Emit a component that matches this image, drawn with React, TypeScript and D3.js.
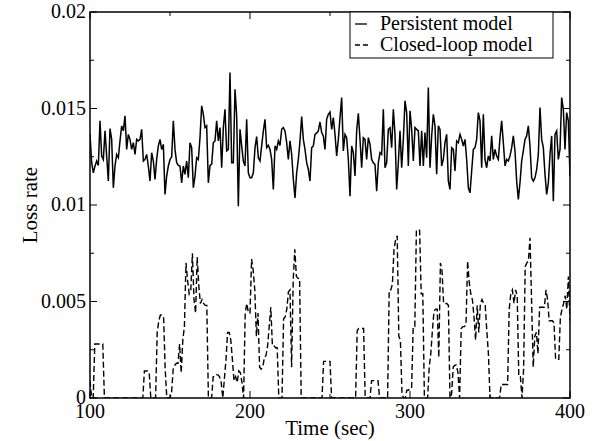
import React from "react";
import * as d3 from "d3";

const xMajorTicks = [100, 200, 300, 400];
const xMinorTicks = [150, 250, 350];
const yMajorTicks = [0, 0.005, 0.01, 0.015, 0.02];
const yMajorLabels = ["0", "0.005", "0.01", "0.015", "0.02"];
const yMinorTicks = [0.0025, 0.0075, 0.0125, 0.0175];
const seriesNames = ["Persistent model", "Closed-loop model"];
const xTitle = "Time (sec)";
const yTitle = "Loss rate";

// Persistent model, t = 100..400 (evenly sampled)
const persistent = [
  0.01366, 0.01219, 0.01167, 0.01202, 0.01228, 0.01205, 0.01436, 0.01254, 0.01236, 0.01384,
  0.01254, 0.01124, 0.01396, 0.0134, 0.01089, 0.01202, 0.01262, 0.01245, 0.01332, 0.0141,
  0.01384, 0.01462, 0.01288, 0.01366, 0.0134, 0.01288, 0.01323, 0.01262, 0.0134, 0.01332,
  0.0134, 0.01392, 0.01228, 0.01236, 0.01262, 0.01202, 0.01124, 0.01271, 0.01228, 0.01133,
  0.01236, 0.01306, 0.0134, 0.01288, 0.01314, 0.01055, 0.0115, 0.01202, 0.01236, 0.0125,
  0.01436, 0.01288, 0.01219, 0.01205, 0.01202, 0.01115, 0.01202, 0.01159, 0.01228, 0.01141,
  0.01323, 0.01297, 0.01089, 0.0115, 0.01245, 0.01236, 0.01349, 0.01514, 0.0147, 0.01401,
  0.0141, 0.01115, 0.01205, 0.01211, 0.01323, 0.01332, 0.01436, 0.01332, 0.01401, 0.01193,
  0.01401, 0.01496, 0.0128, 0.01288, 0.01687, 0.01219, 0.01219, 0.016, 0.01462, 0.00994,
  0.01392, 0.01306, 0.01228, 0.01202, 0.01444, 0.01167,
  0.01141, 0.01141, 0.01167, 0.01297, 0.01354, 0.01245, 0.01228, 0.01306, 0.01384, 0.01444,
  0.01297, 0.01309, 0.01288, 0.01236, 0.01081, 0.01306, 0.01288, 0.01332, 0.01309, 0.01392,
  0.01401, 0.01384, 0.01323, 0.01236, 0.01332, 0.01262, 0.01132, 0.01037, 0.01167, 0.01236,
  0.01332, 0.01458, 0.0134, 0.01288, 0.01219, 0.01184, 0.01124, 0.01297, 0.01306, 0.01366,
  0.01372, 0.01384, 0.0143, 0.01375, 0.01358, 0.01288, 0.01444, 0.0147, 0.01482, 0.01392,
  0.01453, 0.01366, 0.01254, 0.0134, 0.01453, 0.01557, 0.0128, 0.01366, 0.01349, 0.01236,
  0.01046, 0.01306, 0.01271, 0.0115, 0.01384, 0.01475, 0.0134, 0.01193, 0.01349, 0.0134,
  0.01236, 0.01349, 0.01314, 0.01236, 0.01219, 0.0121, 0.01072, 0.01219, 0.01271, 0.01262,
  0.01496, 0.01193, 0.01219, 0.01392, 0.01401, 0.01297, 0.01496, 0.01366, 0.01081, 0.01219,
  0.01384, 0.01193, 0.0134, 0.0154, 0.01479, 0.01202,
  0.01488, 0.01392, 0.01228, 0.01401, 0.01392, 0.01384, 0.01202, 0.01384, 0.01202, 0.01375,
  0.01245, 0.01609, 0.01193, 0.01358, 0.0147, 0.0141, 0.01159, 0.0141, 0.01392, 0.01202,
  0.01236, 0.01323, 0.01366, 0.01124, 0.01081, 0.01297, 0.01288, 0.01176, 0.01332, 0.01323,
  0.01366, 0.0134, 0.01306, 0.0134, 0.01236, 0.01089, 0.01063, 0.01176, 0.01288, 0.01297,
  0.0134, 0.01479, 0.01436, 0.01193, 0.0147, 0.01236, 0.01193, 0.01254, 0.01228, 0.01358,
  0.01236, 0.01288, 0.01254, 0.01236, 0.01349, 0.01436, 0.01323, 0.01202, 0.01236, 0.01228,
  0.01254, 0.01297, 0.01358, 0.0128, 0.01124, 0.01029, 0.01115, 0.01228, 0.0128, 0.0134,
  0.01358, 0.0141, 0.01306, 0.01141, 0.01124, 0.01141, 0.01184, 0.01262, 0.01505, 0.0134,
  0.01297, 0.01159, 0.01055, 0.01115, 0.01262, 0.01358, 0.0102, 0.01366, 0.01384, 0.01236,
  0.01288, 0.01557, 0.01496, 0.01288, 0.01479, 0.01436, 0.0115,
];

// Closed-loop model, one value per second, t = 100..400
const closedLoop = [
  0.0009, 0, 0, 0.0028, 0.0028, 0.0028, 0.0028, 0.0028, 0.0028, 0,
  0, 0, 0, 0, 0, 0, 0, 0, 0, 0,
  0, 0, 0, 0, 0, 0, 0, 0, 0, 0,
  0, 0, 0, 0, 0.0014, 0.0014, 0.0014, 0.0013, 0, 0,
  0, 0, 0.0034, 0.004, 0.0043, 0.0043, 0.0042, 0.0015, 0, 0,
  0, 0.0003, 0.0015, 0.0017, 0.0018, 0.0018, 0.0028, 0.0013, 0.003, 0.0037,
  0.007, 0.0061, 0.0054, 0.0056, 0.0075, 0.0051, 0.0044, 0.0073, 0.0058, 0.0049,
  0.0051, 0.0049, 0.0048, 0.0048, 0, 0, 0, 0.0011, 0.0011, 0.0012,
  0.0012, 0.0011, 0.0008, 0, 0.001, 0.002, 0.0034, 0.0034, 0.003, 0.002,
  0.0009, 0.0011, 0.0008, 0.0014, 0.0013, 0.0008, 0, 0.0044, 0.0049, 0.0044,
  0.0044, 0.0072, 0.0066, 0.0056, 0.0032, 0.0044, 0.0016, 0.0015, 0.0016, 0.0021,
  0.0022, 0.0027, 0.0037, 0.0047, 0.0027, 0.0027, 0.0026, 0.0026, 0, 0,
  0, 0.0041, 0.0042, 0.0046, 0.0055, 0.0056, 0.0016, 0.0061, 0.0077, 0.0063,
  0.0062, 0.0062, 0, 0, 0, 0, 0, 0, 0, 0,
  0, 0, 0, 0, 0, 0, 0.0019, 0.0019, 0.0019, 0.0019,
  0.0019, 0, 0, 0, 0, 0, 0, 0, 0, 0,
  0, 0, 0, 0, 0, 0, 0, 0.0035, 0.0036, 0.0036,
  0.0036, 0.0036, 0, 0, 0, 0, 0.0009, 0.0009, 0.0009, 0.0009,
  0.0009, 0, 0, 0, 0, 0, 0, 0.0056, 0.0056, 0.0059,
  0.0077, 0.0082, 0.0084, 0.0032, 0.003, 0.0002, 0, 0, 0.0004, 0.0004,
  0.0005, 0.0005, 0.0037, 0.0037, 0.0087, 0.0087, 0.0087, 0.0054, 0.0054, 0,
  0, 0, 0.0016, 0.0023, 0.0035, 0.0045, 0.0046, 0.0046, 0.0021, 0.007,
  0.0066, 0.0049, 0.0049, 0.0049, 0.0048, 0, 0.0002, 0.0016, 0.0017, 0.0017,
  0.0013, 0, 0.0036, 0.0037, 0.0037, 0.0038, 0.0071, 0.006, 0.0054, 0.0051,
  0.0042, 0.003, 0.0048, 0.0034, 0.0049, 0.0051, 0.0049, 0.0048, 0.0035, 0.0023,
  0, 0, 0, 0, 0, 0, 0, 0.0007, 0.0007, 0.0007,
  0.0007, 0.0007, 0.0046, 0.0054, 0.0056, 0.0049, 0.0056, 0.0053, 0.0011, 0.0011,
  0, 0.0015, 0.0068, 0.007, 0.0071, 0.0083, 0.005, 0.0016, 0.0032, 0.0034,
  0.0023, 0.0047, 0.0047, 0.0047, 0.0047, 0.0056, 0.0051, 0.004, 0.004, 0.004,
  0.0039, 0.002, 0.002, 0.002, 0.0042, 0.0046, 0.0049, 0.0053, 0.0046, 0.0063,
  0.004,
];

const T0 = 100;
const T1 = 400;
const persistentTimes = persistent.map((_, i) => T0 + (i * (T1 - T0)) / (persistent.length - 1));
const closedLoopTimes = closedLoop.map((_, i) => T0 + i);

const W = 600;
const H = 441;
const L = 90;
const R = 570;
const TOP = 12;
const BOT = 398;
const FONT = "'Liberation Serif', 'Times New Roman', serif";

export default function App() {
  const x = d3.scaleLinear().domain([T0, T1]).range([L, R]);
  const y = d3.scaleLinear().domain([0, 0.02]).range([BOT, TOP]);

  const line = d3
    .line<[number, number]>()
    .x((d) => x(d[0]))
    .y((d) => y(d[1]));

  const pPath = line(persistent.map((v, i) => [persistentTimes[i], v]));
  const cPath = line(closedLoop.map((v, i) => [closedLoopTimes[i], v]));

  const major = 7;
  const minor = 4;

  const ticks: JSX.Element[] = [];
  xMajorTicks.forEach((t, i) => {
    ticks.push(<line key={`xb${i}`} x1={x(t)} x2={x(t)} y1={BOT} y2={BOT - major} />);
    ticks.push(<line key={`xt${i}`} x1={x(t)} x2={x(t)} y1={TOP} y2={TOP + major} />);
  });
  xMinorTicks.forEach((t, i) => {
    ticks.push(<line key={`xbm${i}`} x1={x(t)} x2={x(t)} y1={BOT} y2={BOT - minor} />);
    ticks.push(<line key={`xtm${i}`} x1={x(t)} x2={x(t)} y1={TOP} y2={TOP + minor} />);
  });
  yMajorTicks.forEach((t, i) => {
    ticks.push(<line key={`yl${i}`} x1={L} x2={L + major} y1={y(t)} y2={y(t)} />);
    ticks.push(<line key={`yr${i}`} x1={R} x2={R - major} y1={y(t)} y2={y(t)} />);
  });
  yMinorTicks.forEach((t, i) => {
    ticks.push(<line key={`ylm${i}`} x1={L} x2={L + minor} y1={y(t)} y2={y(t)} />);
    ticks.push(<line key={`yrm${i}`} x1={R} x2={R - minor} y1={y(t)} y2={y(t)} />);
  });

  const legX = 350;
  const legW = 203;
  const legY = TOP;
  const legH = 46;
  const row1 = 30;
  const row2 = 51;

  return (
    <svg
      width={W}
      height={H}
      style={{ position: "absolute", left: 0, top: 0, background: "#fff" }}
      fontFamily={FONT}
    >
      <rect x={0} y={0} width={W} height={H} fill="#fff" />
      <defs>
        <clipPath id="plotclip">
          <rect x={L} y={TOP} width={R - L} height={BOT - TOP} />
        </clipPath>
      </defs>
      <g clipPath="url(#plotclip)" fill="none" stroke="#000">
        <path d={pPath || ""} strokeWidth={1.5} />
        <path d={cPath || ""} strokeWidth={1.4} strokeDasharray="6,3" />
      </g>
      <g stroke="#000" strokeWidth={1}>{ticks}</g>
      <rect x={L} y={TOP} width={R - L} height={BOT - TOP} fill="none" stroke="#000" strokeWidth={1.5} />

      {xMajorTicks.map((t, i) => (
        <text key={`xl${i}`} x={x(t)} y={418} textAnchor="middle" fontSize={20} fill="#000">
          {t}
        </text>
      ))}
      {yMajorTicks.map((t, i) => (
        <text key={`yl${i}`} x={L - 4} y={y(t) + 6} textAnchor="end" fontSize={20} fill="#000">
          {yMajorLabels[i]}
        </text>
      ))}

      <text x={(L + R) / 2} y={435} textAnchor="middle" fontSize={21} fill="#000">
        {xTitle}
      </text>
      <text
        transform={`translate(37, ${(TOP + BOT) / 2}) rotate(-90)`}
        textAnchor="middle"
        fontSize={21}
        fill="#000"
      >
        {yTitle}
      </text>

      <rect x={legX} y={legY} width={legW} height={legH} fill="#fff" stroke="#000" strokeWidth={1} />
      <line x1={355} x2={367} y1={row1 - 6} y2={row1 - 6} stroke="#000" strokeWidth={1.3} />
      <line x1={355} x2={369} y1={row2 - 6} y2={row2 - 6} stroke="#000" strokeWidth={1.3} strokeDasharray="5,3" />
      <text x={380} y={row1} fontSize={20} fill="#000">
        {seriesNames[0]}
      </text>
      <text x={380} y={row2} fontSize={20} fill="#000">
        {seriesNames[1]}
      </text>
    </svg>
  );
}
